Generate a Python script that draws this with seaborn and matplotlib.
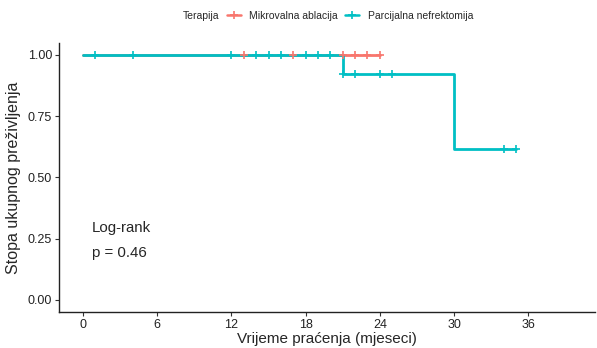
import numpy as np
import pandas as pd
import seaborn as sns
import matplotlib
matplotlib.use("Agg")
import matplotlib.pyplot as plt
from matplotlib.lines import Line2D

# ---- data ----
groups = ["Mikrovalna ablacija", "Parcijalna nefrektomija"]
colors = ["#F8766D", "#00BFC4"]

mw_times = [0, 24]
mw_surv = [1.0, 1.0]
mw_censor = [13, 17, 21, 22, 23, 24]

pn_times = [0, 21, 30, 35]
pn_surv = [1.0, 0.923, 0.615, 0.615]
pn_censor = [1, 4, 12, 14, 15, 16, 18, 19, 20, 21, 22, 24, 25, 34, 35]

x_ticks = [0, 6, 12, 18, 24, 30, 36]
y_ticks = [0.00, 0.25, 0.50, 0.75, 1.00]
y_ticklabels = ["0.00", "0.25", "0.50", "0.75", "1.00"]

sns.set_theme(style="ticks")
plt.rcParams["font.family"] = ["Liberation Sans", "DejaVu Sans"]

curves = pd.concat([
    pd.DataFrame({"t": mw_times, "s": mw_surv, "g": groups[0]}),
    pd.DataFrame({"t": pn_times, "s": pn_surv, "g": groups[1]}),
])

def surv_at(times, surv, ct):
    idx = np.searchsorted(np.asarray(times), np.asarray(ct), side="right") - 1
    return np.asarray(surv)[idx]

cens = pd.concat([
    pd.DataFrame({"t": mw_censor, "s": surv_at(mw_times, mw_surv, mw_censor), "g": groups[0]}),
    pd.DataFrame({"t": pn_censor, "s": surv_at(pn_times, pn_surv, pn_censor), "g": groups[1]}),
])

fig = plt.figure(figsize=(5.97, 3.48), dpi=100)
ax = fig.add_axes([59/597, 1 - 312/348, (595-59)/597, (312-43)/348])

palette = dict(zip(groups, colors))
for g in groups:
    sub = curves[curves.g == g]
    sns.lineplot(data=sub, x="t", y="s", color=palette[g], drawstyle="steps-post",
                 linewidth=2.0, ax=ax, legend=False, estimator=None)
for g in groups:
    sub = cens[cens.g == g]
    sns.scatterplot(data=sub, x="t", y="s", color=palette[g], marker="+", s=28,
                    linewidth=1.2, ax=ax, legend=False, zorder=5)

ax.set_xlim(-1.95, 41.4)
ax.set_ylim(-0.05, 1.049)
ax.set_xticks(x_ticks)
ax.set_xticklabels([str(v) for v in x_ticks])
ax.set_yticks(y_ticks)
ax.set_yticklabels(y_ticklabels)
ax.tick_params(axis="both", labelsize=9, length=3, width=0.8, color="#333333", labelcolor="#222222", pad=2)
for sp in ["top", "right"]:
    ax.spines[sp].set_visible(False)
for sp in ["left", "bottom"]:
    ax.spines[sp].set_linewidth(1.0)
    ax.spines[sp].set_color("#222222")
ax.set_xlabel("Vrijeme praćenja (mjeseci)", fontsize=11, labelpad=1)
ax.set_ylabel("Stopa ukupnog preživljenja", fontsize=11.5, labelpad=5)

ax.text(0.7, 0.295, "Log-rank", fontsize=10.8, va="center", ha="left")
ax.text(0.7, 0.19, "p = 0.46", fontsize=10.8, va="center", ha="left")

fig.text(183/597, 1 - 16/348, "Terapija", fontsize=7.5, va="center", ha="left")
handles = [Line2D([], [], color=c, marker="+", markersize=6, linewidth=1.8, markeredgewidth=1.2) for c in colors]
fig.legend(handles, groups, loc="center left", bbox_to_anchor=(227/597, 1 - 16/348), ncol=2,
           frameon=False, fontsize=7.5, handlelength=1.35, handletextpad=0.8, columnspacing=0.7,
           borderpad=0, borderaxespad=0)

fig.savefig("out.png", dpi=100)
